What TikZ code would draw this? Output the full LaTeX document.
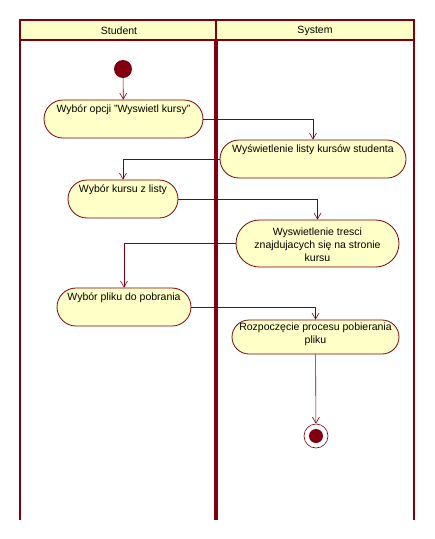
\documentclass[tikz,border=0pt]{standalone}
\usepackage{fontspec}
\setmainfont{Liberation Sans}
\usetikzlibrary{positioning}
\usetikzlibrary{arrows.meta}
\usetikzlibrary{shapes.misc}
\definecolor{umlred}{RGB}{128,0,16}
\definecolor{umlfill}{RGB}{255,255,200}
\tikzset{
	act/.style={rounded rectangle, draw=umlred, fill=umlfill, line width=0.8pt, inner sep=0pt},
	acttext/.style={inner sep=0pt, align=center, font=\fontsize{10.5}{13}\selectfont},
	flow/.style={draw=umlred, line width=0.6pt, -{Straight Barb[length=6pt,width=7pt]}},
	lane/.style={draw=umlred},
}
\begin{document}
\begin{tikzpicture}[x=1pt, y=-1pt]
		\useasboundingbox (0,0) rectangle (435,539);
		% swimlanes
		\fill[umlfill] (20,20) rectangle (414,40);
		\draw[lane, line width=2pt] (20,20) -- (414,20);
		\draw[lane, line width=1.6pt] (20,40) -- (414,40);
		\draw[lane, line width=2pt] (20,19) -- (20,520);
		\draw[lane, line width=2pt] (414,19) -- (414,520);
		\draw[lane, line width=1.6pt] (216,20) -- (216,40);
		\draw[lane, line width=3.4pt] (216,40) -- (216,520);
		\node[font=\fontsize{10.5}{13}\selectfont] (student) at (119,30.5) {Student};
		\node[font=\fontsize{10.5}{13}\selectfont] (system) at (315,30.5) {System};

		% start
		\node[circle, fill=umlred, minimum size=18pt, inner sep=0pt] (start) at (123,69) {};

		% activities
		\node[act, minimum width=159pt, minimum height=38pt] (opt) at (123.5,119) {};
		\node[acttext, below=5pt of opt.north] (opttxt) {Wybór opcji "Wyswietl kursy"};
		\node[act, minimum width=186pt, minimum height=38pt] (list) at (313,159) {};
		\node[acttext, below=5pt of list.north] (listtxt) {Wyświetlenie listy kursów studenta};
		\node[act, minimum width=110pt, minimum height=38pt] (course) at (123,199) {};
		\node[acttext, below=5pt of course.north] (coursetxt) {Wybór kursu z listy};
		\node[act, minimum width=163pt, minimum height=47pt] (content) at (317.5,243.5) {};
		\node[acttext] (contenttxt) at (317.5,244.5) {Wyswietlenie tresci\\znajdujacych się na stronie\\kursu};
		\node[act, minimum width=167pt, minimum height=34pt] (download) at (315.5,337) {};
		\node[acttext] (downloadtxt) at (315.5,334.5) {Rozpoczęcie procesu pobierania\\pliku};
		\node[act, minimum width=134pt, minimum height=38pt] (file) at (124,307) {};
		\node[acttext, below=5pt of file.north] (filetxt) {Wybór pliku do pobrania};

		% end
		\node[circle, draw=umlred, line width=0.6pt, minimum size=24pt, inner sep=0pt] (stop) at (316,436) {};
		\node[circle, fill=umlred, minimum size=14pt, inner sep=0pt] (stopdot) at (stop) {};

		% flows
		\draw[flow] (start) -- (opt);
		\draw[flow] (opt.east) -| (list.north);
		\draw[flow] (list.west) -| (course.north);
		\draw[flow] (course.east) -| (content.north);
		\draw[flow] (content.west) -| (file.north);
		\draw[flow] (file.east) -| (download.north);
		\draw[flow] (download) -- (stop);
	\end{tikzpicture}
\end{document}
